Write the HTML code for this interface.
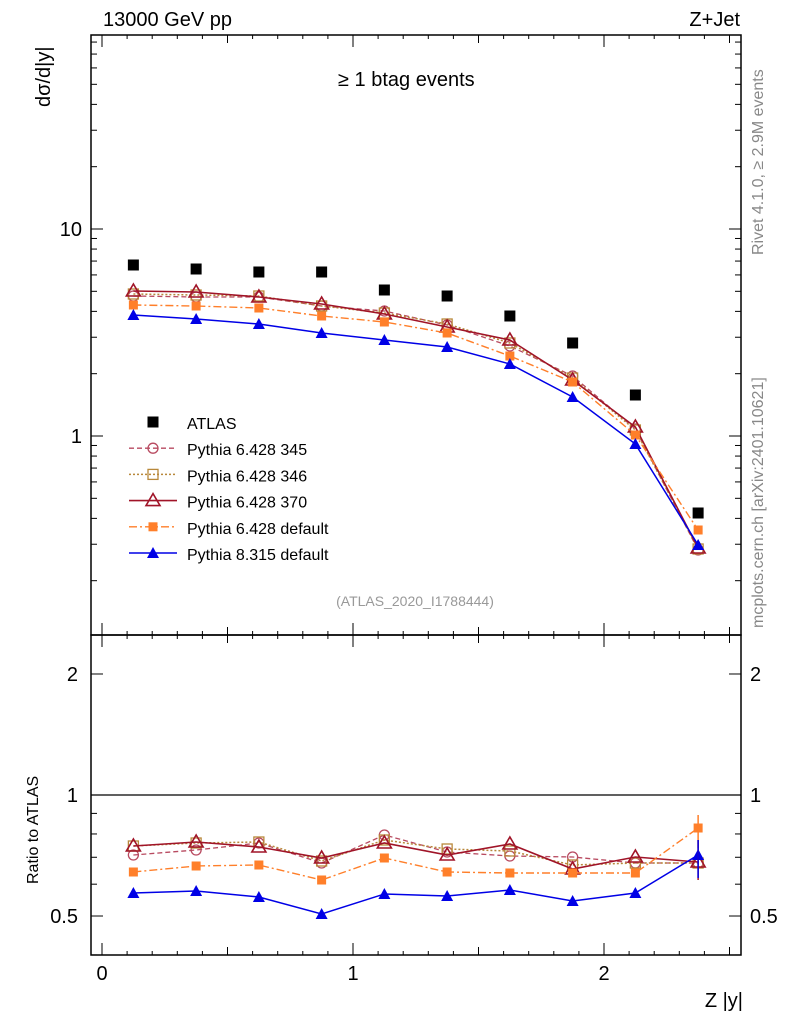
<!DOCTYPE html>
<html><head><meta charset="utf-8"><style>
body{margin:0;background:#fff;width:786px;height:1024px;overflow:hidden}
svg text{font-family:"Liberation Sans",sans-serif}
</style></head><body>
<svg id="s" width="786" height="1024" xmlns="http://www.w3.org/2000/svg"></svg>
<script>
const s=document.getElementById('s');let h='';
const L=91,R=741,T=35,M=635,B=955;
const X=v=>102+251*v;
const YM=v=>436-207*Math.log10(v);
const YR=v=>795-402*Math.log10(v);
// frames
h+=`<rect x="${L}" y="${T}" width="${R-L}" height="${M-T}" fill="none" stroke="#000" stroke-width="1.5"/>`;
h+=`<rect x="${L}" y="${M}" width="${R-L}" height="${B-M}" fill="none" stroke="#000" stroke-width="1.5"/>`;
// x ticks
for(let i=0;i<=25;i++){let v=i/10,x=X(v);if(x<L||x>R)continue;let big=i%5==0?(i%10==0?12:8):4;
 if(i%10==0)big=12;else if(i%5==0)big=8;else big=4;
 h+=`<line x1="${x}" y1="${B}" x2="${x}" y2="${B-big}" stroke="#000"/><line x1="${x}" y1="${M}" x2="${x}" y2="${M-big}" stroke="#000"/><line x1="${x}" y1="${M}" x2="${x}" y2="${M+big}" stroke="#000"/><line x1="${x}" y1="${T}" x2="${x}" y2="${T+big}" stroke="#000"/>`;}
[0,1,2].forEach(v=>h+=`<text x="${X(v)}" y="980" font-size="20" text-anchor="middle">${v}</text>`);
// main y ticks
for(let d=-1;d<=1;d++)for(let m=1;m<=9;m++){let v=m*Math.pow(10,d),y=YM(v);if(y<T||y>M)continue;let l=m==1?12:6;
 h+=`<line x1="${L}" y1="${y}" x2="${L+l}" y2="${y}" stroke="#000"/><line x1="${R}" y1="${y}" x2="${R-l}" y2="${y}" stroke="#000"/>`;}
h+=`<text x="82" y="236" font-size="20" text-anchor="end">10</text><text x="82" y="443" font-size="20" text-anchor="end">1</text>`;
// ratio y ticks
for(let d=-1;d<=0;d++)for(let m=1;m<=9;m++){let v=m*Math.pow(10,d),y=YR(v);if(y<M||y>B)continue;let l=(v==1||v==2||v==0.5)?12:6;
 h+=`<line x1="${L}" y1="${y}" x2="${L+l}" y2="${y}" stroke="#000"/><line x1="${R}" y1="${y}" x2="${R-l}" y2="${y}" stroke="#000"/>`;}
h+=`<line x1="${L}" y1="795" x2="${R}" y2="795" stroke="#000" stroke-width="1.2"/>`;
[[2,674],[1,795],[0.5,916]].forEach(([t,y])=>{h+=`<text x="78" y="${y+7}" font-size="20" text-anchor="end">${t}</text><text x="750" y="${y+7}" font-size="20">${t}</text>`});
// labels
h+=`<text x="103" y="26" font-size="20">13000 GeV pp</text><text x="740" y="26" font-size="20" text-anchor="end">Z+Jet</text>`;
h+=`<text x="338" y="86" font-size="20">≥ 1 btag events</text>`;
h+=`<text transform="translate(50,107) rotate(-90)" font-size="20" >dσ/d|y|</text>`;
h+=`<text transform="translate(38,884) rotate(-90)" font-size="16" >Ratio to ATLAS</text>`;
h+=`<text x="743" y="1007" font-size="20" text-anchor="end">Z |y|</text>`;
h+=`<text x="415" y="606" font-size="14" fill="#999" text-anchor="middle">(ATLAS_2020_I1788444)</text>`;
h+=`<text transform="translate(763,255) rotate(-90)" font-size="16" fill="#888">Rivet 4.1.0, ≥ 2.9M events</text>`;
h+=`<text transform="translate(763,628) rotate(-90)" font-size="16" fill="#888">mcplots.cern.ch [arXiv:2401.10621]</text>`;
const xs=[0,1,2,3,4,5,6,7,8,9].map(i=>X(0.125+0.25*i));
const ser=[
 {c:'#b84a60',d:'5,3',m:'oc',w:1.3,main:[296,297,297,306,311,325,346,376,429,550],rat:[855,850,843,863,835,852,856,857,863,863]},
 {c:'#b8883b',d:'2,2',m:'os',w:1.5,main:[294,295,296,306,313,324,343,378,430,549],rat:[846,843,842,861,840,849,851,865,863,863]},
 {c:'#a01428',d:'',m:'ot',w:1.6,main:[291,292,297,304,314,327,340,380,427,548],rat:[846,842,847,858,843,855,844,869,857,862]},
 {c:'#ff7f2a',d:'8,3,2,3',m:'fs',w:1.4,main:[305,306,308,316,322,333,356,382,435,530],rat:[872,866,865,880,858,872,873,873,873,828]},
 {c:'#0000e6',d:'',m:'ft',w:1.5,main:[315,319,324,333,340,347,364,397,444,545],rat:[893,891,897,914,894,896,890,901,893,855]},
];
function mk(t,x,y,c,sz){sz=sz||5;
 if(t=='oc')return `<circle cx="${x}" cy="${y}" r="${sz}" fill="none" stroke="${c}" stroke-width="1.3"/>`;
 if(t=='os')return `<rect x="${x-sz}" y="${y-sz}" width="${2*sz}" height="${2*sz}" fill="none" stroke="${c}" stroke-width="1.3"/>`;
 if(t=='ot')return `<polygon points="${x},${y-7} ${x-7},${y+5} ${x+7},${y+5}" fill="none" stroke="${c}" stroke-width="1.6"/>`;
 if(t=='fs')return `<rect x="${x-4.5}" y="${y-4.5}" width="9" height="9" fill="${c}"/>`;
 if(t=='ft')return `<polygon points="${x},${y-6} ${x-6},${y+5} ${x+6},${y+5}" fill="${c}"/>`;
 if(t=='atl')return `<rect x="${x-5.5}" y="${y-5.5}" width="11" height="11" fill="#000"/>`;}
ser.forEach(s=>{
 [s.main,s.rat].forEach(arr=>{h+=`<polyline points="${arr.map((y,i)=>xs[i]+','+y).join(' ')}" fill="none" stroke="${s.c}" stroke-width="${s.w}" stroke-dasharray="${s.d}"/>`;
  arr.forEach((y,i)=>h+=mk(s.m,xs[i],y,s.c));});
});
// error bars last bin ratio
h+=`<line x1="${xs[9]}" y1="815" x2="${xs[9]}" y2="848" stroke="#ff7f2a" stroke-width="1.5"/><line x1="${xs[9]}" y1="840" x2="${xs[9]}" y2="880" stroke="#a01428" stroke-width="1.5"/><line x1="${xs[9]}" y1="840" x2="${xs[9]}" y2="878" stroke="#0000e6" stroke-width="1.5"/>`;
[265,269,272,272,290,296,316,343,395,513].forEach((y,i)=>h+=mk('atl',xs[i],y));
// legend
const lg=[['ATLAS','atl'],['Pythia 6.428 345',0],['Pythia 6.428 346',1],['Pythia 6.428 370',2],['Pythia 6.428 default',3],['Pythia 8.315 default',4]];
lg.forEach((l,i)=>{let y=422+26.2*i;
 if(l[1]=='atl')h+=mk('atl',153,y);else{let s=ser[l[1]];h+=`<line x1="129" y1="${y}" x2="177" y2="${y}" stroke="${s.c}" stroke-width="${s.w}" stroke-dasharray="${s.d}"/>`+mk(s.m,153,y,s.c);}
 h+=`<text x="187" y="${y+7}" font-size="16">${l[0]}</text>`;});
s.innerHTML=h;
</script>
</body></html>
